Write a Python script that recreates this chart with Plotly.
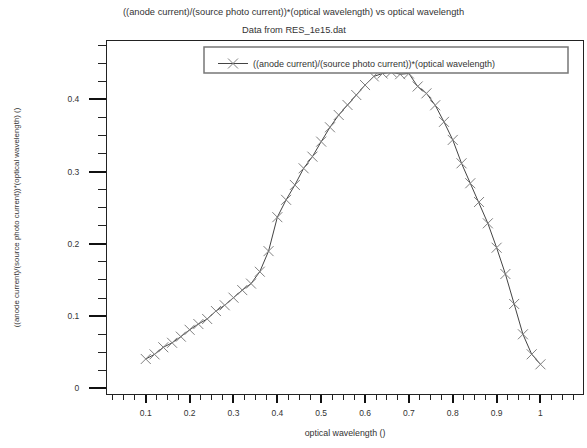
import plotly.graph_objects as go

wavelength = [0.10, 0.12, 0.14, 0.16, 0.18, 0.20, 0.22, 0.24, 0.26, 0.28,
              0.30, 0.32, 0.34, 0.36, 0.38, 0.40, 0.42, 0.44, 0.46, 0.48,
              0.50, 0.52, 0.54, 0.56, 0.58, 0.60, 0.62, 0.64, 0.66, 0.68,
              0.70, 0.72, 0.74, 0.76, 0.78, 0.80, 0.82, 0.84, 0.86, 0.88,
              0.90, 0.92, 0.94, 0.96, 0.98, 1.00]
ratio = [0.0406, 0.047, 0.0568, 0.063, 0.0715, 0.081, 0.089, 0.096, 0.107, 0.115,
         0.1255, 0.136, 0.145, 0.1615, 0.190, 0.237, 0.261, 0.2816, 0.3047, 0.3208,
         0.3416, 0.3615, 0.3785, 0.3924, 0.4062, 0.420, 0.432, 0.436, 0.438, 0.435,
         0.436, 0.418, 0.4085, 0.392, 0.369, 0.344, 0.3116, 0.284, 0.258, 0.2285,
         0.1947, 0.1583, 0.1168, 0.0748, 0.0471, 0.0332]

series_name = "((anode current)/(source photo current))*(optical wavelength)"
title_line1 = "((anode current)/(source photo current))*(optical wavelength) vs optical wavelength"
title_line2 = "Data from RES_1e15.dat"
x_title = "optical wavelength ()"
y_title = "((anode current)/(source photo current))*(optical wavelength) ()"

FONT = "Liberation Sans, Arial, sans-serif"
TXT = "#333333"

fig = go.Figure()
fig.add_trace(go.Scatter(
    x=wavelength, y=ratio, mode="lines+markers", name=series_name,
    line=dict(color="#444444", width=1),
    marker=dict(symbol="x-thin-open", size=10, color="#808080",
                line=dict(color="#808080", width=1)),
))

# legend box (white, covers the curve as in the reference)
fig.add_shape(type="rect", xref="paper", yref="paper",
              x0=(204 - 107) / 476, x1=(568 - 107) / 476,
              y0=(394 - 73) / 353, y1=(394 - 47) / 353,
              fillcolor="white", line=dict(color="#777777", width=1.5),
              layer="above")

PAGE_CX = (293.5 - 107) / 476

fig.update_layout(
    width=587, height=448,
    margin=dict(l=107, r=4, t=41, b=54),
    paper_bgcolor="white", plot_bgcolor="white",
    font=dict(family=FONT, size=9, color=TXT),
    showlegend=True,
    legend=dict(x=(213 - 107) / 476, y=(394 - 49) / 353, xanchor="left", yanchor="top",
                bgcolor="rgba(0,0,0,0)", borderwidth=0,
                font=dict(family=FONT, size=9, color=TXT)),
    annotations=[
        dict(text=title_line1, xref="paper", yref="paper", x=PAGE_CX,
             y=(394 - 12) / 353, xanchor="center", yanchor="middle", showarrow=False,
             font=dict(family=FONT, size=9.3, color=TXT)),
        dict(text=title_line2, xref="paper", yref="paper", x=PAGE_CX,
             y=(394 - 30) / 353, xanchor="center", yanchor="middle", showarrow=False,
             font=dict(family=FONT, size=9.3, color=TXT)),
    ],
)

fig.update_xaxes(
    range=[0.0116, 1.097], tickmode="linear", tick0=0, dtick=0.1,
    ticks="outside", ticklen=8, tickwidth=1.5, tickcolor="#111111",
    showline=True, linecolor="#222222", linewidth=1, mirror=True,
    showgrid=False, zeroline=False,
    minor=dict(ticks="outside", ticklen=5, tickwidth=1, tickcolor="#222222",
               dtick=0.025, tick0=0, showgrid=False),
    tickfont=dict(family=FONT, size=8.5, color=TXT),
    ticklabelstandoff=3,
    title=dict(text=x_title, font=dict(family=FONT, size=8.8, color=TXT), standoff=12),
)
fig.update_yaxes(
    range=[-0.0079, 0.481], tickmode="linear", tick0=0, dtick=0.1,
    ticks="outside", ticklen=17, tickwidth=1.5, tickcolor="#111111",
    showline=True, linecolor="#222222", linewidth=1, mirror=True,
    showgrid=False, zeroline=False,
    minor=dict(ticks="outside", ticklen=8, tickwidth=1, tickcolor="#222222",
               dtick=0.025, tick0=0, showgrid=False),
    tickfont=dict(family=FONT, size=8.5, color=TXT),
    ticklabelstandoff=8,
    title=dict(text=y_title, font=dict(family=FONT, size=7.9, color=TXT), standoff=46),
)

fig.write_html("out.html")
